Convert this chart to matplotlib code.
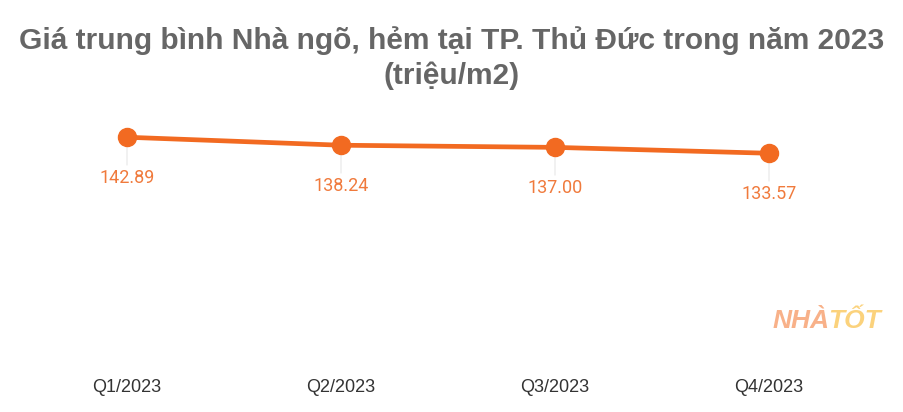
import matplotlib
matplotlib.use("Agg")
import matplotlib.pyplot as plt

categories = ["Q1/2023", "Q2/2023", "Q3/2023", "Q4/2023"]
values = [142.89, 138.24, 137.00, 133.57]
value_labels = ["142.89", "138.24", "137.00", "133.57"]
title = "Giá trung bình Nhà ngõ, hẻm tại TP. Thủ Đức trong năm 2023\n(triệu/m2)"

line_color = "#F26A21"
label_color = "#F07A3C"

fig = plt.figure(figsize=(9.04, 4.12), dpi=100)
ax = fig.add_axes([20/904, 29/412, 856/904, 258/412])
x = list(range(len(categories)))
ax.plot(x, values, color=line_color, lw=3.4, marker="o", markersize=13,
        solid_capstyle="round", zorder=3)
for xi, v, lab in zip(x, values, value_labels):
    ax.annotate("", xy=(xi, v), xytext=(0, -22), textcoords="offset points",
                arrowprops=dict(arrowstyle="-", color="#E6E6E6", lw=0.8), zorder=1)
    ax.annotate(lab, xy=(xi, v), xytext=(0, -29), textcoords="offset points",
                ha="center", va="center", color=label_color, fontsize=13,
                family=["Roboto", "DejaVu Sans"])
ax.set_xlim(-0.5, len(categories) - 0.5)
ax.set_ylim(0, 150)
ax.set_xticks(x)
ax.set_xticklabels(categories, family=["Liberation Sans", "DejaVu Sans"],
                   fontsize=13, color="#333333")
ax.tick_params(axis="x", length=0, pad=-3)
ax.set_yticks([])
for s in ax.spines.values():
    s.set_visible(False)

fig.text(0.5, 1 - 58/412, title, ha="center", va="center", fontsize=21.5,
         fontweight="bold", color="#666666", linespacing=1.3,
         family=["Liberation Sans", "DejaVu Sans"])

fig.text(830/904, 1 - 321/412, "NHÀ", ha="right", va="center", fontsize=19,
         fontweight="bold", fontstyle="italic", color="#F8B189",
         family=["Liberation Sans", "DejaVu Sans"])
fig.text(828/904, 1 - 321/412, "TỐT", ha="left", va="center", fontsize=19,
         fontweight="bold", fontstyle="italic", color="#FBD27C",
         family=["Liberation Sans", "DejaVu Sans"])

fig.savefig("out.png", dpi=100, facecolor="white")
